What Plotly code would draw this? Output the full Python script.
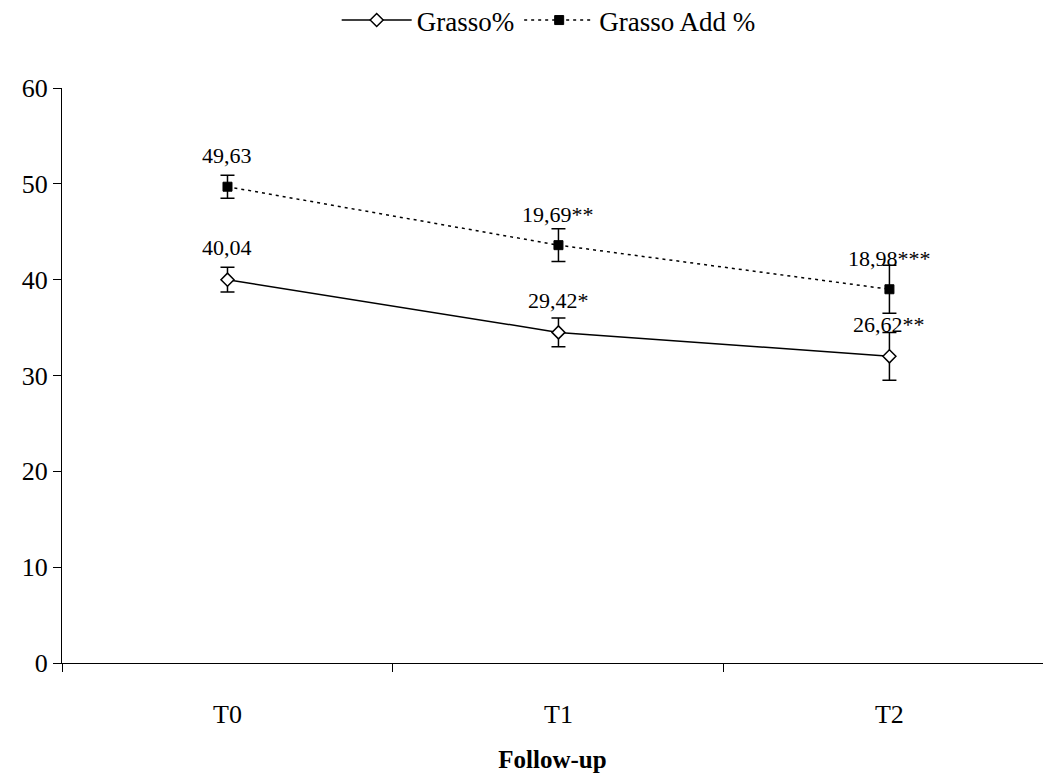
import plotly.graph_objects as go

categories = ["T0", "T1", "T2"]
grasso = [40.0, 34.5, 32.0]
grasso_err = [1.3, 1.5, 2.5]
grasso_labels = ["40,04", "29,42*", "26,62**"]
add = [49.7, 43.6, 39.0]
add_err = [1.2, 1.7, 2.5]
add_labels = ["49,63", "19,69**", "18,98***"]
yticks = [0, 10, 20, 30, 40, 50, 60]

FONT = "Liberation Serif"

fig = go.Figure()
fig.add_trace(go.Scatter(
    x=categories, y=grasso, name="Grasso%", mode="lines+markers",
    line=dict(color="black", width=1.5),
    marker=dict(symbol="diamond", size=10, color="white", line=dict(color="black", width=1.5)),
    error_y=dict(type="data", array=grasso_err, color="black", thickness=1.5, width=7),
))
fig.add_trace(go.Scatter(
    x=categories, y=add, name="Grasso Add %", mode="lines+markers",
    line=dict(color="black", width=1.5, dash="3px,4px"),
    marker=dict(symbol="square", size=9, color="black", line=dict(color="black", width=1)),
    error_y=dict(type="data", array=add_err, color="black", thickness=1.5, width=7),
))

for cat, v, t in zip(categories, grasso, grasso_labels):
    fig.add_annotation(x=cat, y=v, text=t, showarrow=False, yshift=32,
                       font=dict(family=FONT, size=22, color="black"))
for cat, v, t in zip(categories, add, add_labels):
    fig.add_annotation(x=cat, y=v, text=t, showarrow=False, yshift=31,
                       font=dict(family=FONT, size=22, color="black"))

fig.update_layout(
    width=1043, height=776,
    paper_bgcolor="white", plot_bgcolor="white",
    margin=dict(l=62, r=0, t=88, b=113, autoexpand=False),
    font=dict(family=FONT, size=26, color="black"),
    showlegend=True,
    legend=dict(orientation="h", x=0.28, xanchor="left", xref="paper",
                y=1.16, yref="paper", yanchor="top",
                itemwidth=70, tracegroupgap=0,
                font=dict(family=FONT, size=27, color="black"),
                bgcolor="rgba(0,0,0,0)"),
    xaxis=dict(
        type="category", range=[-0.5, 2.464],
        showline=True, linecolor="black", linewidth=1,
        showgrid=False, zeroline=False,
        ticks="outside", tickson="boundaries", ticklen=8, tickcolor="black",
        ticklabelstandoff=28,
        tickfont=dict(family=FONT, size=26, color="black"),
        title=dict(text="<b>Follow-up</b>", standoff=22,
                   font=dict(family=FONT, size=25, color="black")),
    ),
    yaxis=dict(
        range=[0, 60], tickvals=yticks,
        showline=True, linecolor="black", linewidth=1,
        showgrid=False, zeroline=False,
        ticks="outside", ticklen=8, tickcolor="black",
        tickfont=dict(family=FONT, size=26, color="black"),
    ),
)

fig.write_html("out.html")
